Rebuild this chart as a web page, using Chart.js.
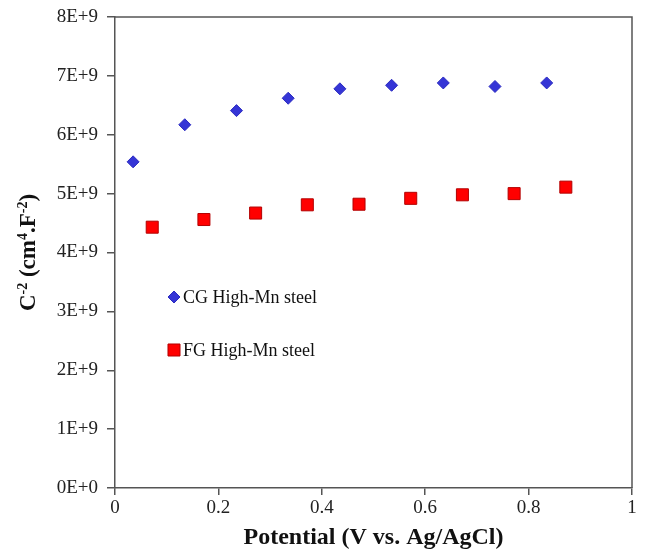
<!DOCTYPE html>
<html><head><meta charset="utf-8">
<script src="https://cdn.jsdelivr.net/npm/chart.js@4.4.1/dist/chart.umd.min.js"></script>
<style>html,body{margin:0;padding:0;background:#fff;}</style>
</head><body>
<canvas id="c" width="645" height="552" style="width:645px;height:552px;display:block"></canvas>
<script>
const cgPotential = [0.035, 0.135, 0.235, 0.335, 0.435, 0.535, 0.635, 0.735, 0.835];
const cgValues = [5.54e9, 6.17e9, 6.41e9, 6.62e9, 6.78e9, 6.84e9, 6.88e9, 6.82e9, 6.88e9];
const fgPotential = [0.072, 0.172, 0.272, 0.372, 0.472, 0.572, 0.672, 0.772, 0.872];
const fgValues = [4.43e9, 4.56e9, 4.67e9, 4.81e9, 4.82e9, 4.92e9, 4.98e9, 5.00e9, 5.11e9];
const seriesLabels = ['CG High-Mn steel', 'FG High-Mn steel'];
const xTickLabels = ['0', '0.2', '0.4', '0.6', '0.8', '1'];
const yTickLabels = ['0E+0', '1E+9', '2E+9', '3E+9', '4E+9', '5E+9', '6E+9', '7E+9', '8E+9'];
const xTitle = 'Potential (V vs. Ag/AgCl)';
const yTitleParts = [['C', false], ['-2', true], [' (cm', false], ['4', true], ['.F', false], ['-2', true], [')', false]];

const SERIF = "'Liberation Serif', 'Times New Roman', serif";
const AXIS = '#555555';

const toPts = (xs, ys) => xs.map((x, i) => ({x: x, y: ys[i]}));

const framePlugin = {
  id: 'frame',
  beforeDatasetsDraw(chart) {
    const {ctx, chartArea: a} = chart;
    ctx.save();
    ctx.strokeStyle = AXIS;
    ctx.lineWidth = 1.5;
    ctx.beginPath();
    ctx.moveTo(a.left, a.top);
    ctx.lineTo(a.right, a.top);
    ctx.lineTo(a.right, a.bottom);
    ctx.stroke();
    ctx.restore();
  }
};

const yTitlePlugin = {
  id: 'yTitle',
  afterDraw(chart) {
    const {ctx, chartArea: a} = chart;
    const big = 'bold 23px ' + SERIF, small = 'bold 14px ' + SERIF;
    ctx.save();
    let total = 0;
    yTitleParts.forEach(([t, sup]) => { ctx.font = sup ? small : big; total += ctx.measureText(t).width; });
    ctx.translate(35, (a.top + a.bottom) / 2);
    ctx.rotate(-Math.PI / 2);
    ctx.fillStyle = '#111';
    ctx.textBaseline = 'alphabetic';
    ctx.textAlign = 'left';
    let x = -total / 2;
    yTitleParts.forEach(([t, sup]) => {
      ctx.font = sup ? small : big;
      ctx.fillText(t, x, sup ? -8 : 0);
      x += ctx.measureText(t).width;
    });
    ctx.restore();
  }
};

const legendPlugin = {
  id: 'inLegend',
  afterDatasetsDraw(chart) {
    const {ctx, chartArea: a} = chart;
    ctx.save();
    chart.data.datasets.forEach((ds, i) => {
      const y = a.top + 280 + i * 53;
      const px = a.left + 59;
      ctx.fillStyle = ds.backgroundColor;
      ctx.strokeStyle = ds.borderColor;
      ctx.lineWidth = ds.borderWidth;
      Chart.helpers.drawPoint(ctx, {pointStyle: ds.pointStyle, radius: ds.pointRadius, borderWidth: ds.borderWidth, rotation: 0}, px, y);
      ctx.fillStyle = '#111';
      ctx.font = '18px ' + SERIF;
      ctx.textBaseline = 'middle';
      ctx.textAlign = 'left';
      ctx.fillText(ds.label, px + 9, y + 1);
    });
    ctx.restore();
  }
};

new Chart(document.getElementById('c'), {
  type: 'scatter',
  data: {
    datasets: [
      {label: seriesLabels[0], data: toPts(cgPotential, cgValues), pointStyle: 'rectRot', pointRadius: 6, pointHoverRadius: 6,
       backgroundColor: '#3535d6', borderColor: '#2a2ac0', borderWidth: 1},
      {label: seriesLabels[1], data: toPts(fgPotential, fgValues), pointStyle: 'rect', pointRadius: 8.5, pointHoverRadius: 8.5,
       backgroundColor: '#ff0000', borderColor: '#b30000', borderWidth: 1}
    ]
  },
  options: {
    responsive: false,
    animation: false,
    layout: {padding: {top: 17, right: 13, left: 0, bottom: 0}},
    plugins: {legend: {display: false}, tooltip: {enabled: false}},
    scales: {
      x: {
        type: 'linear', min: 0, max: 1,
        afterFit(s) { s.height = 64; s.paddingLeft = 0; s.paddingRight = 0; },
        ticks: {stepSize: 0.2, color: '#222', font: {family: SERIF, size: 19}, padding: 2,
                callback: (v, i) => xTickLabels[i]},
        grid: {drawOnChartArea: false, drawTicks: true, tickLength: 7, color: AXIS, lineWidth: 1.5},
        border: {display: true, color: AXIS, width: 1.5},
        title: {display: true, text: xTitle, color: '#111', font: {family: SERIF, size: 24, weight: 'bold'}, padding: {top: 2, bottom: 0}}
      },
      y: {
        type: 'linear', min: 0, max: 8e9,
        afterFit(s) { s.width = 115; s.paddingTop = 0; s.paddingBottom = 0; },
        ticks: {stepSize: 1e9, color: '#222', font: {family: SERIF, size: 19}, padding: 9,
                callback: (v, i) => yTickLabels[i]},
        grid: {drawOnChartArea: false, drawTicks: true, tickLength: 8, color: AXIS, lineWidth: 1.5},
        border: {display: true, color: AXIS, width: 1.5}
      }
    }
  },
  plugins: [framePlugin, yTitlePlugin, legendPlugin]
});
</script>
</body></html>
